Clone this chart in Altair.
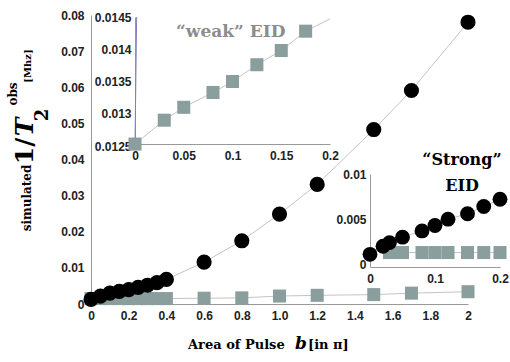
import altair as alt
import pandas as pd

# ---------------- data ----------------
main_circ_x = [0, 0.05, 0.1, 0.15, 0.2, 0.25, 0.3, 0.35, 0.4, 0.6, 0.8, 1.0, 1.2, 1.5, 1.7, 2.0]
main_circ_y = [0.0013, 0.0022, 0.003, 0.0035, 0.004, 0.0046, 0.0052, 0.0059, 0.0068,
               0.0116, 0.0175, 0.0249, 0.0331, 0.0483, 0.0591, 0.078]
main_sq_x = [0, 0.05, 0.1, 0.15, 0.2, 0.25, 0.3, 0.35, 0.4, 0.6, 0.8, 1.0, 1.2, 1.5, 1.7, 2.0]
main_sq_y = [0.0015, 0.0015, 0.0015, 0.0015, 0.0015, 0.0015, 0.0015, 0.0015, 0.0015,
             0.0016, 0.0017, 0.0022, 0.0024, 0.0026, 0.003, 0.0034]

weak_sq_x = [0, 0.03, 0.05, 0.08, 0.1, 0.125, 0.15, 0.175]
weak_sq_y = [0.01253, 0.0129, 0.0131, 0.01333, 0.0135, 0.01376, 0.01398, 0.01428]
weak_fit_x = [0, 0.03, 0.05, 0.08, 0.1, 0.125, 0.15, 0.175, 0.2]
weak_fit_y = [0.01253, 0.0129, 0.0131, 0.01333, 0.0135, 0.01376, 0.01398, 0.01428, 0.01447]
weak_steep_x = [0, 0.0017]
weak_steep_y = [0.01253, 0.0145]

strong_circ_x = [0, 0.02, 0.03, 0.05, 0.08, 0.1, 0.12, 0.15, 0.175, 0.2]
strong_circ_y = [0.0011, 0.002, 0.0024, 0.003, 0.0037, 0.0043, 0.005, 0.0056, 0.0064, 0.0072]
strong_sq_x = [0.03, 0.05, 0.08, 0.1, 0.12, 0.15, 0.175, 0.2]
strong_sq_y = [0.0013] * 8

main_x_ticks = [0, 0.2, 0.4, 0.6, 0.8, 1.0, 1.2, 1.4, 1.6, 1.8, 2.0]
main_y_ticks = [0, 0.01, 0.02, 0.03, 0.04, 0.05, 0.06, 0.07, 0.08]
weak_x_ticks = [0, 0.05, 0.1, 0.15, 0.2]
weak_y_ticks = [0.0125, 0.013, 0.0135, 0.014, 0.0145]
strong_x_ticks = [0, 0.1, 0.2]
strong_y_ticks = [0, 0.005, 0.01]

# ---------------- styles ----------------
SQ = "#8a9e9e"
LINE = "#c4c4c4"
SERIF = "DejaVu Serif"
SANS = "Liberation Sans"
W, H = 377, 289

mc = pd.DataFrame({"x": main_circ_x, "y": main_circ_y})
ms = pd.DataFrame({"x": main_sq_x, "y": main_sq_y})
ws = pd.DataFrame({"x": weak_sq_x, "y": weak_sq_y})
wf = pd.DataFrame({"x": weak_fit_x, "y": weak_fit_y})
wst = pd.DataFrame({"x": weak_steep_x, "y": weak_steep_y})
sc = pd.DataFrame({"x": strong_circ_x, "y": strong_circ_y})
ss = pd.DataFrame({"x": strong_sq_x, "y": strong_sq_y})


def axis_style(**kw):
    base = dict(grid=False, ticks=False, title=None, labelFont=SANS, labelFontWeight="bold",
                labelFontSize=12, labelColor="#222", domainColor="#999", domainWidth=1,
                labelFlush=False, labelOverlap=False, labelBound=False)
    base.update(kw)
    return alt.Axis(**base)


# ---------- main ----------
mx = alt.X("x:Q", scale=alt.Scale(domain=[0, 2], nice=False),
           axis=axis_style(values=main_x_ticks, labelPadding=6,
                           labelExpr="datum.value == 1 ? '1.0' : format(datum.value, '~g')"))
my = alt.Y("y:Q", scale=alt.Scale(domain=[0, 0.08], nice=False),
           axis=axis_style(values=main_y_ticks, format=".2~f", labelPadding=7))

main_line_c = alt.Chart(mc).mark_line(color=LINE, strokeWidth=1).encode(x=mx, y=my)
main_line_s = alt.Chart(ms).mark_line(color=LINE, strokeWidth=1).encode(x=mx, y=my)
main_sq = alt.Chart(ms).mark_point(shape="square", filled=True, size=170, color=SQ, opacity=1).encode(x=mx, y=my)
main_c = alt.Chart(mc).mark_circle(size=230, color="black", opacity=1).encode(x=mx, y=my)

one = pd.DataFrame({"a": [0]})


def label(text, x, y, size, color="black", italic=False, angle=0, align="center", font=SERIF):
    kw = dict(font=font, fontSize=size, fontWeight="bold", color=color, align=align,
              baseline="middle")
    if italic:
        kw["fontStyle"] = "italic"
    if angle:
        kw["angle"] = angle
    return alt.Chart(one).mark_text(**kw).encode(
        x=alt.value(x), y=alt.value(y), text=alt.value(text))


texts = [
    label("simulated", -64, 183, 12, angle=270),
    label("1/", -66, 136, 25, angle=270),
    label("T", -66, 112, 25, italic=True, angle=270),
    label("obs", -78, 79, 12, angle=270),
    label("2", -48, 100, 18, angle=270),
    label("[Mhz]", -63, 51, 10, angle=270),
    label("Area of Pulse", 97, 330, 13, align="left"),
    label("b", 204, 329, 17, italic=True, align="left"),
    label("[in π]", 217, 330, 13, align="left"),
    label("“weak” EID", 85, 17, 17, color="#8c8c8c", align="left"),
    label("“Strong”", 371, 145, 16),
    label("EID", 371, 171, 16),
]

main = alt.layer(main_line_c, main_line_s, main_sq, main_c, *texts)

# ---------- weak inset ----------
wx = alt.X("x:Q", scale=alt.Scale(domain=[0, 0.2], range=[44, 239], nice=False, zero=False),
           axis=axis_style(values=weak_x_ticks, format="~g", orient="bottom", offset=-160,
                           labelPadding=6))
wy = alt.Y("y:Q", scale=alt.Scale(domain=[0.0125, 0.0145], range=[131, 2], nice=False, zero=False),
           axis=axis_style(values=weak_y_ticks, format=".4~f", orient="left", offset=-44,
                           labelPadding=4))
weak = alt.layer(
    alt.Chart(wf).mark_line(color=LINE, strokeWidth=1).encode(x=wx, y=wy),
    alt.Chart(wst).mark_line(color="#8080b8", strokeWidth=1).encode(x=wx, y=wy),
    alt.Chart(ws).mark_point(shape="square", filled=True, size=170, color=SQ, opacity=1).encode(x=wx, y=wy),
)

# ---------- strong inset ----------
sx = alt.X("x:Q", scale=alt.Scale(domain=[0, 0.2], range=[279, 409], nice=False, zero=False),
           axis=axis_style(values=strong_x_ticks, format="~g", orient="bottom", offset=-37,
                           labelPadding=6))
sy = alt.Y("y:Q", scale=alt.Scale(domain=[-0.0003, 0.01], range=[252, 159], nice=False, zero=False),
           axis=axis_style(values=strong_y_ticks, format="~g", orient="left", offset=-279,
                           labelPadding=4))
strong = alt.layer(
    alt.Chart(sc).mark_line(color=LINE, strokeWidth=1).encode(x=sx, y=sy),
    alt.Chart(ss).mark_line(color=LINE, strokeWidth=1).encode(x=sx, y=sy),
    alt.Chart(ss).mark_point(shape="square", filled=True, size=170, color=SQ, opacity=1).encode(x=sx, y=sy),
    alt.Chart(sc).mark_circle(size=220, color="black", opacity=1).encode(x=sx, y=sy),
)

chart = alt.layer(main, weak, strong).resolve_scale(x="independent", y="independent").properties(
    width=W, height=H, autosize="none",
    padding={"left": 91, "top": 15, "right": 42, "bottom": 58},
    background="white",
).configure_view(stroke=None)

chart.save("out.html", embed_options={"renderer": "svg", "actions": False})
